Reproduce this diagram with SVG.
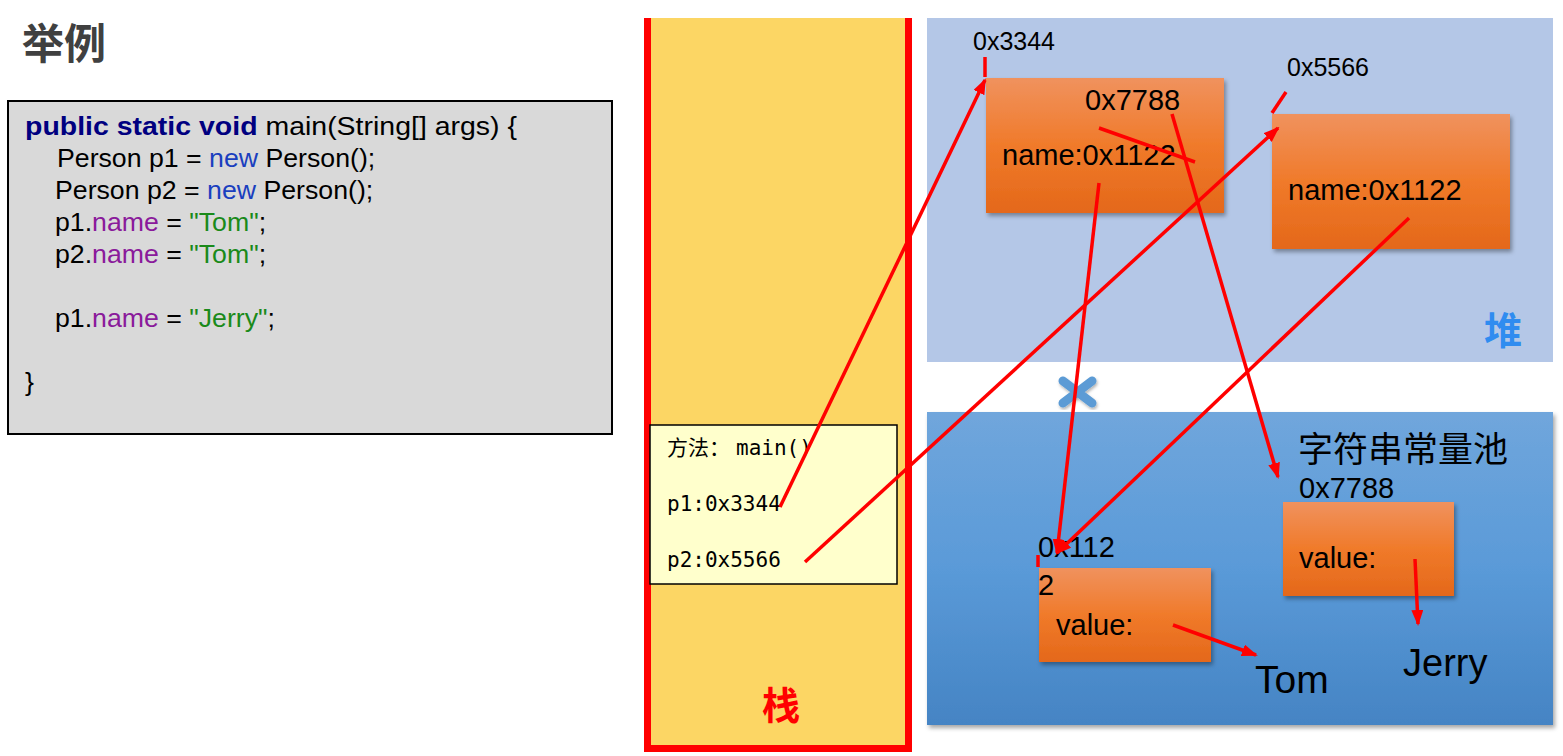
<svg xmlns="http://www.w3.org/2000/svg" width="1563" height="756" viewBox="0 0 1563 756">
  <style>
    .sans { font-family: "Liberation Sans", Arial, sans-serif; }
    .cjk { font-family: "Noto Sans CJK SC", sans-serif; }
    .mono { font-family: "DejaVu Sans Mono", "Noto Sans CJK SC", monospace; font-size: 21px; fill: #000; }
    .code { font-family: "Liberation Sans", Arial, sans-serif; font-size: 26.7px; fill: #000; }
    .kw { font-weight: bold; fill: #000080; }
    .new { fill: #1a3fbf; }
    .fld { fill: #8a1a9b; }
    .str { fill: #1a8a1a; }
    .obj { fill: url(#orange); filter: url(#shadow); }
    .lbl { font-family: "Liberation Sans", Arial, sans-serif; font-size: 29px; fill: #000; }
    .addr { font-family: "Liberation Sans", Arial, sans-serif; font-size: 25px; fill: #000; }
    .ref { stroke: #ff0000; stroke-width: 3.5; fill: none; }
    .arrow { marker-end: url(#ah); }
  </style>
  <defs>
    <linearGradient id="orange" x1="0" y1="0" x2="0" y2="1">
      <stop offset="0" stop-color="#f0925e"/>
      <stop offset="0.5" stop-color="#f07a2a"/>
      <stop offset="1" stop-color="#e4681a"/>
    </linearGradient>
    <linearGradient id="poolFill" x1="0" y1="0" x2="0" y2="1">
      <stop offset="0" stop-color="#70a6dc"/>
      <stop offset="0.5" stop-color="#5a9ad8"/>
      <stop offset="1" stop-color="#4584c4"/>
    </linearGradient>
    <filter id="shadow" x="-10%" y="-10%" width="125%" height="130%">
      <feDropShadow dx="2" dy="3" stdDeviation="2" flood-color="#000" flood-opacity="0.35"/>
    </filter>
    <filter id="softShadow" x="-30%" y="-30%" width="160%" height="160%">
      <feDropShadow dx="1" dy="2" stdDeviation="1.5" flood-color="#000" flood-opacity="0.3"/>
    </filter>
    <marker id="ah" markerWidth="16" markerHeight="12" refX="14" refY="6" orient="auto" markerUnits="userSpaceOnUse">
      <path d="M0,0 L16,6 L0,12 z" fill="#ff0000"/>
    </marker>
  </defs>

  <rect width="1563" height="756" fill="#ffffff"/>

  <!-- title -->
  <g id="heading">
    <text x="22" y="59" class="cjk" font-size="42" font-weight="bold" fill="#404040">举例</text>
  </g>

  <!-- source code panel -->
  <g id="code">
    <rect x="8" y="101" width="604" height="333" fill="#d9d9d9" stroke="#000" stroke-width="2"/>
    <text class="code" x="25" y="135" font-size="28.5" textLength="492" lengthAdjust="spacingAndGlyphs"><tspan class="kw">public static void</tspan> main(String[] args) {</text>
    <text class="code" x="57" y="167">Person p1 = <tspan class="new">new</tspan> Person();</text>
    <text class="code" x="55" y="199">Person p2 = <tspan class="new">new</tspan> Person();</text>
    <text class="code" x="55" y="231">p1.<tspan class="fld">name</tspan> = <tspan class="str">"Tom"</tspan>;</text>
    <text class="code" x="55" y="263">p2.<tspan class="fld">name</tspan> = <tspan class="str">"Tom"</tspan>;</text>
    <text class="code" x="55" y="327">p1.<tspan class="fld">name</tspan> = <tspan class="str">"Jerry"</tspan>;</text>
    <text class="code" x="25" y="391">}</text>
  </g>

  <!-- stack area -->
  <g id="stack">
    <rect x="645" y="18" width="267" height="734" fill="#fcd664"/>
    <path d="M647.5,18 V748.5 H908.5 V18" fill="none" stroke="#ff0000" stroke-width="7"/>
    <text x="781" y="719" class="cjk" font-size="38" font-weight="bold" fill="#ff0000" text-anchor="middle">栈</text>
  </g>

  <!-- stack frame of main() -->
  <g id="frame-main">
    <rect x="650" y="425" width="247" height="159" fill="#ffffcc" stroke="#000" stroke-width="1.5"/>
    <text class="mono" x="667" y="455">方法：<tspan dx="6">main()</tspan></text>
    <text class="mono" x="667" y="511">p1:0x3344</text>
    <text class="mono" x="667" y="567">p2:0x5566</text>
  </g>

  <!-- heap area -->
  <g id="heap">
    <rect x="927" y="18" width="626" height="344" fill="#b4c7e7"/>
    <text x="1503" y="344" class="cjk" font-size="38" font-weight="bold" fill="#2f8cf0" text-anchor="middle">堆</text>
  </g>

  <!-- heap object p1 -->
  <g id="obj-p1">
    <text class="addr" x="973" y="50">0x3344</text>
    <rect class="obj" x="986" y="78" width="238" height="135"/>
    <text class="lbl" x="1085" y="110">0x7788</text>
    <text class="lbl" x="1002" y="165">name:0x1122</text>
  </g>

  <!-- heap object p2 -->
  <g id="obj-p2">
    <text class="addr" x="1287" y="76">0x5566</text>
    <rect class="obj" x="1272" y="114" width="238" height="135"/>
    <text class="lbl" x="1288" y="200">name:0x1122</text>
  </g>

  <!-- string constant pool -->
  <g id="pool">
    <rect x="927" y="412" width="626" height="313" fill="url(#poolFill)" filter="url(#shadow)"/>
    <text x="1298" y="462" class="cjk" font-size="35" fill="#000">字符串常量池</text>
  </g>

  <!-- "Tom" string object -->
  <g id="str-tom">
    <text class="lbl" x="1038" y="557">0x112</text>
    <rect class="obj" x="1039" y="568" width="172" height="94"/>
    <text class="lbl" x="1038" y="595">2</text>
    <text class="lbl" x="1056" y="635">value:</text>
    <text x="1255" y="693" class="sans" font-size="39" fill="#000">Tom</text>
  </g>

  <!-- "Jerry" string object -->
  <g id="str-jerry">
    <text class="lbl" x="1299" y="498">0x7788</text>
    <rect class="obj" x="1283" y="502" width="171" height="94"/>
    <text class="lbl" x="1299" y="568">value:</text>
    <text x="1403" y="676" class="sans" font-size="38" fill="#000">Jerry</text>
  </g>

  <!-- broken-reference mark -->
  <g id="break-mark" filter="url(#softShadow)">
    <path d="M1063,381 L1092,403 M1092,381 L1063,403" stroke="#5b9bd5" stroke-width="9" stroke-linecap="round" fill="none"/>
  </g>

  <!-- references -->
  <g id="connectors">
    <path class="ref arrow" d="M780,507 L985,80"/>
    <path class="ref" d="M985,57 V77"/>
    <path class="ref arrow" d="M805,562 L1278,128"/>
    <path class="ref" d="M1286,92 L1272,113"/>
    <path class="ref" d="M1099,128 L1195,162"/>
    <path class="ref arrow" d="M1099,183 L1057,553"/>
    <path class="ref arrow" d="M1172,114 L1278,477"/>
    <path class="ref arrow" d="M1409,218 L1057,553"/>
    <path class="ref" d="M1038,555 V567"/>
    <path class="ref arrow" d="M1173,625 L1256,655"/>
    <path class="ref arrow" d="M1415,559 L1418,624"/>
  </g>
</svg>
